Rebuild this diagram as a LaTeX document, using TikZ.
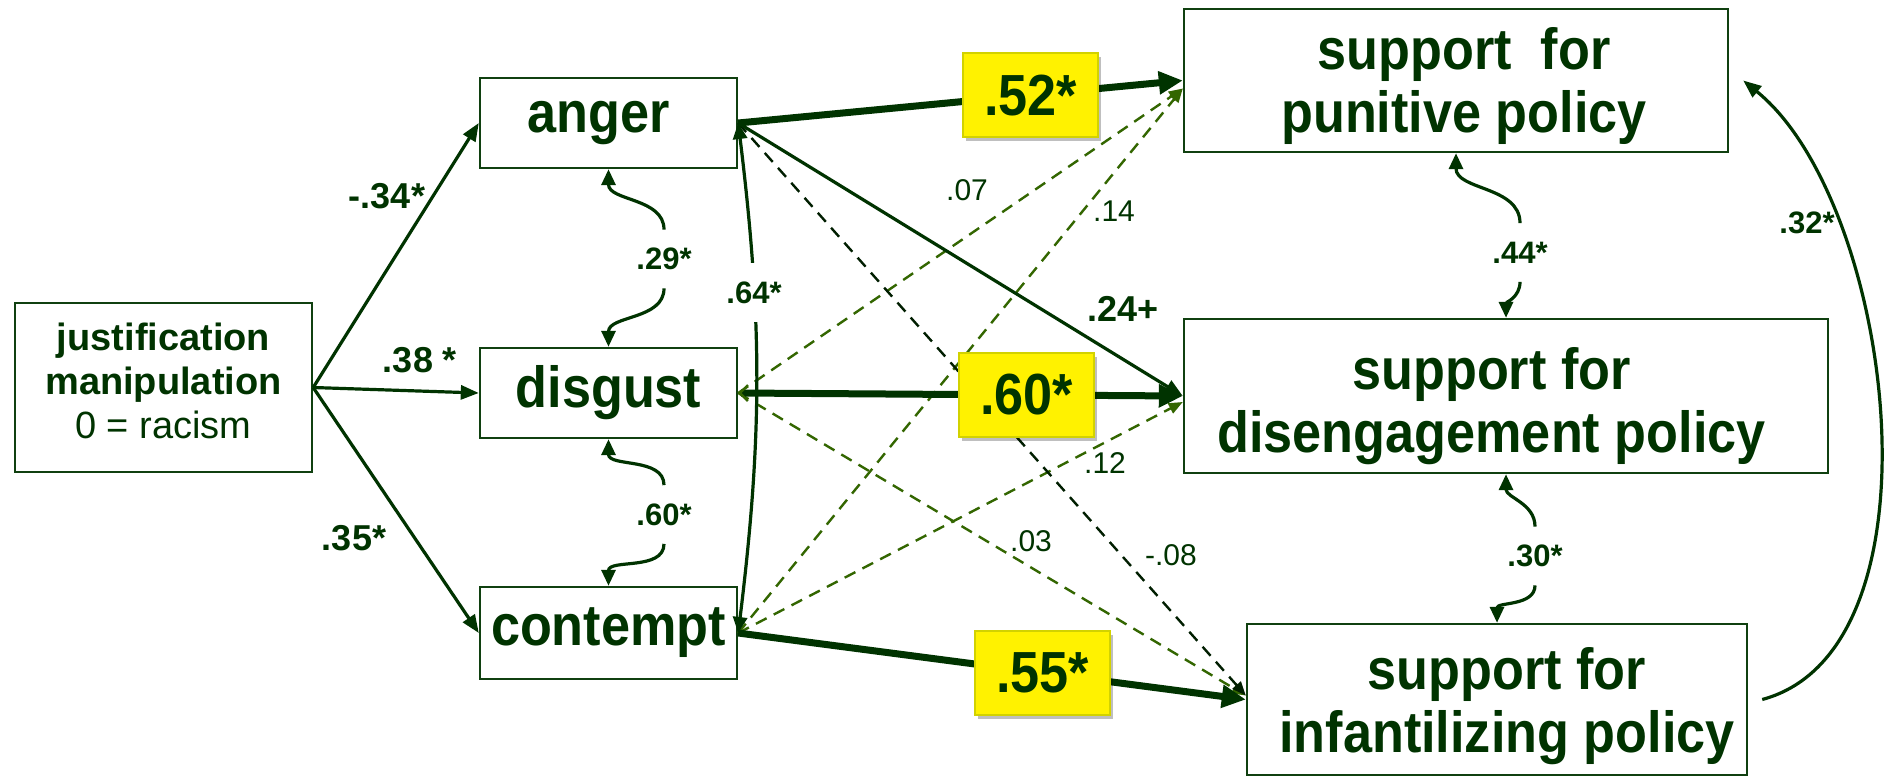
\documentclass[tikz,border=0pt]{standalone}
\usepackage{fontspec}
\setmainfont{Liberation Sans}
\newfontfamily\condfont{Liberation Sans}[FakeStretch=0.9]
\usetikzlibrary{arrows.meta,shadows}
\definecolor{tg}{RGB}{0,51,0}
\definecolor{lg}{RGB}{0,51,0}
\definecolor{dg}{RGB}{51,102,0}
\definecolor{kg}{RGB}{0,30,0}
\definecolor{bc}{RGB}{16,64,16}
\definecolor{yb}{RGB}{210,210,0}
\begin{document}
\begin{tikzpicture}[x=0.5pt,y=0.5pt,
  nbox/.style={draw=bc, line width=1.2pt, inner sep=0pt, rectangle},
  big/.style={font=\condfont\bfseries\fontsize{29}{31.5}\selectfont, text=tg, align=center, inner sep=0pt},
  jf/.style={font=\fontsize{19}{22}\selectfont, text=tg, align=center, inner sep=0pt},
  cl/.style={font=\bfseries\fontsize{15.5}{18}\selectfont, text=tg, inner sep=0pt, minimum height=29pt},
  pl/.style={font=\bfseries\fontsize{18}{21}\selectfont, text=tg, inner sep=1pt},
  nl/.style={font=\fontsize{15}{18}\selectfont, text=tg, inner sep=1pt},
  ylab/.style={big, fill=yellow, draw=yb, line width=1pt, minimum width=67.5pt, minimum height=42pt,
     drop shadow={shadow xshift=1.5pt, shadow yshift=-2pt, opacity=0.25, fill=black}},
  med/.style={draw=lg, line width=1.6pt, -{Triangle[length=9pt,width=7pt]}},
  heavy/.style={draw=lg, line width=3.5pt, -{Triangle[length=12pt,width=11pt]}},
  gdash/.style={draw=dg, line width=1.2pt, dash pattern=on 6pt off 4pt, -{Triangle[length=7pt,width=5.5pt]}},
  kdash/.style={draw=kg, line width=1.2pt, dash pattern=on 6pt off 4pt, -{Triangle[length=7pt,width=5.5pt]}},
  cov/.style={draw=lg, line width=1.6pt, -{Triangle[length=8pt,width=7pt]}}
]
\fill[white] (0,0) rectangle (1884,-776);
\useasboundingbox (0,0) rectangle (1884,-776);

% boxes
\node[nbox, minimum width=148.5pt, minimum height=84.5pt,
  label={[jf, yshift=3.5pt]center:{\textbf{justification}\\\textbf{manipulation}\\0 = racism}}] (just) at (163.5,-387.5) {};
\node[nbox, minimum width=128.5pt, minimum height=45pt, label={[big, xshift=-4.75pt]center:anger}] (anger) at (608.5,-123) {};
\node[nbox, minimum width=128.5pt, minimum height=45pt, label={[big]center:disgust}] (disgust) at (608.5,-393) {};
\node[nbox, minimum width=128.5pt, minimum height=46pt, label={[big]center:contempt}] (contempt) at (608.5,-633) {};
\node[nbox, minimum width=272pt, minimum height=71.5pt,
  label={[big, xshift=4pt, yshift=-2.75pt]center:{support\ \ for\\punitive policy}}] (punitive) at (1456,-80.5) {};
\node[nbox, minimum width=322pt, minimum height=77pt,
  label={[big, xshift=-7.25pt, yshift=-5.25pt]center:{support for\\disengagement policy}}] (diseng) at (1506,-396) {};
\node[nbox, minimum width=250pt, minimum height=75.5pt,
  label={[big, xshift=5pt, yshift=-3.5pt]center:{support for\\infantilizing policy}}] (infant) at (1497,-699.5) {};

% offset end points
\coordinate (pw2) at ([yshift=-4pt]punitive.west);
\coordinate (dw2) at ([yshift=-3pt]diseng.west);
\coordinate (iw2) at ([yshift=2pt]infant.west);

% dashed paths
\draw[gdash] (disgust.east) -- (pw2);
\draw[gdash] (contempt.east) -- (pw2);
\draw[gdash] (disgust.east) -- (iw2);
\draw[gdash] (contempt.east) -- (dw2);
\draw[kdash] (anger.east) -- (iw2);

% medium paths
\draw[med] (just.east) -- (anger.west);
\draw[med] (just.east) -- (disgust.west);
\draw[med] (just.east) -- (contempt.west);
\draw[med] (anger.east) -- (diseng.west);
\draw[med, {Triangle[length=8pt,width=7pt]}-{Triangle[length=8pt,width=7pt]}]
  (anger.east) to[out=-83,in=83]
  node[pos=0.32, cl, fill=white, minimum height=29.5pt, inner xsep=2pt] (l64) {.64*}
  (contempt.east);
\draw[med] ([xshift=7pt]infant.east) to[out=15,in=-39,looseness=0.8] ([xshift=7pt]punitive.east);

% covariances
\node[cl] (c29) at (664,-259) {.29*};
\draw[cov] (c29.north) to[out=90,in=-90] (anger.south);
\draw[cov] (c29.south) to[out=-90,in=90] (disgust.north);
\node[cl] (c60) at (664,-514.5) {.60*};
\draw[cov] (c60.north) to[out=90,in=-90] (disgust.south);
\draw[cov] (c60.south) to[out=-90,in=90] (contempt.north);
\node[cl] (c44) at (1520,-252.5) {.44*};
\draw[cov] (c44.north) to[out=90,in=-90] (punitive.south);
\draw[cov] (c44.south) to[out=-90,in=90] (diseng.north);
\node[cl] (c30) at (1535,-556) {.30*};
\draw[cov] (c30.north) to[out=90,in=-90] (diseng.south);
\draw[cov] (c30.south) to[out=-90,in=90] (infant.north);

% thick paths with highlighted coefficients
\draw[heavy] (anger.east) -- (punitive.west) node[ylab, pos=0.658] (y52) {.52*};
\draw[heavy, {Straight Barb[length=4pt,width=8pt,line width=1.2pt,color=dg]}-{Triangle[length=12pt,width=11pt]}]
  (disgust.east) -- (diseng.west) node[ylab, pos=0.649] (y60) {.60*};
\draw[heavy] (contempt.east) -- (infant.west) node[ylab, pos=0.60] (y55) {.55*};

% coefficient labels
\node[pl] (l34) at (387,-196) {-.34*};
\node[pl] (l38) at (420,-360) {.38 *};
\node[pl] (l35) at (354,-538) {.35*};
\node[pl] (l24) at (1123,-309) {.24+};
\node[nl] (l07) at (967,-190) {.07};
\node[nl] (l14) at (1114,-211) {.14};
\node[nl] (l12) at (1105,-463) {.12};
\node[nl] (l03) at (1031,-541) {.03};
\node[nl] (l08) at (1171,-555) {-.08};
\node[cl] (l32) at (1807,-223) {.32*};
\end{tikzpicture}
\end{document}
